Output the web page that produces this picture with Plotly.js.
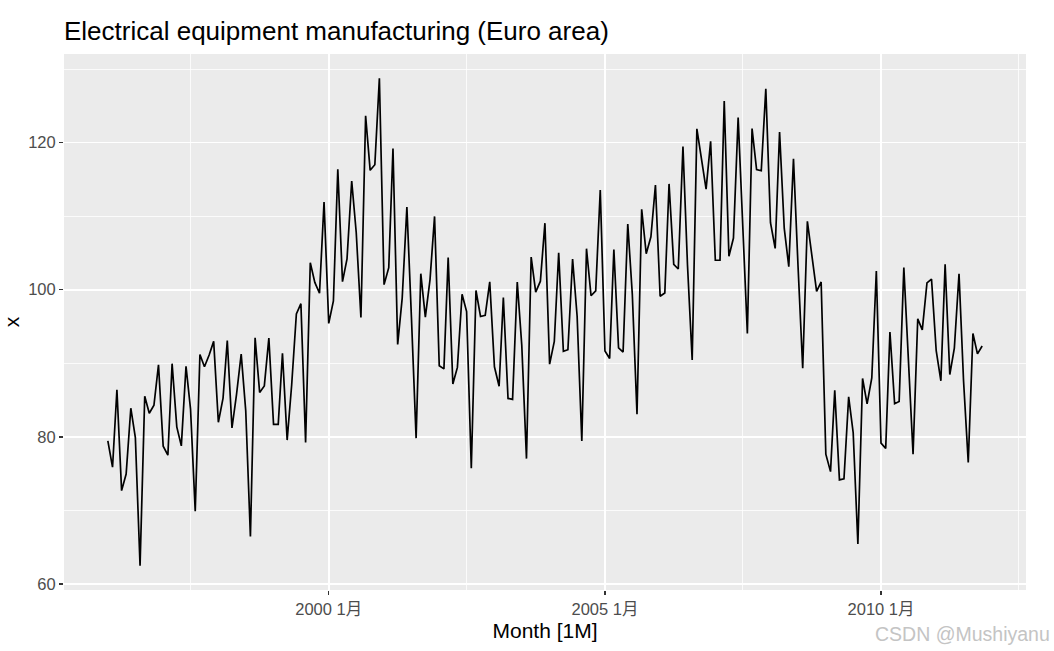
<!DOCTYPE html>
<html>
<head>
<meta charset="utf-8">
<script src="https://cdn.plot.ly/plotly-3.0.1.min.js"></script>
<style>html,body{margin:0;padding:0;background:#fff;}#chart{width:1054px;height:651px;}</style>
</head>
<body>
<div id="chart"></div>
<script>
// Monthly series, Jan 1996 - Nov 2011
const startYear = 1996;
const startMonth = 1;
const values = [
  79.43, 75.86, 86.40, 72.67, 74.93, 83.88, 79.88, 62.47, 85.50, 83.19, 84.29, 89.79,
  78.72, 77.49, 89.94, 81.35, 78.76, 89.59, 83.75, 69.87, 91.18, 89.52, 91.12, 92.97,
  81.97, 85.26, 93.09, 81.19, 85.74, 91.24, 83.56, 66.45, 93.45, 86.03, 86.91, 93.42,
  81.68, 81.68, 91.35, 79.55, 87.08, 96.71, 98.10, 79.22, 103.68, 101.00, 99.52, 111.94,
  95.42, 98.49, 116.37, 101.09, 104.20, 114.79, 107.75, 96.23, 123.65, 116.24, 117.00, 128.75,
  100.69, 102.99, 119.21, 92.56, 98.86, 111.26, 96.25, 79.81, 102.18, 96.28, 101.38, 109.97,
  89.66, 89.23, 104.36, 87.17, 89.43, 99.38, 97.03, 75.72, 99.89, 96.36, 96.52, 101.06,
  89.52, 86.86, 98.93, 85.21, 85.08, 101.05, 92.39, 77.03, 104.44, 99.68, 101.16, 109.05,
  89.88, 92.96, 105.02, 91.62, 91.84, 104.16, 96.40, 79.42, 105.58, 99.18, 99.85, 113.57,
  91.67, 90.65, 105.48, 92.09, 91.52, 108.94, 99.37, 83.07, 110.93, 104.90, 107.19, 114.23,
  99.11, 99.55, 114.39, 103.45, 102.82, 119.46, 103.36, 90.43, 121.88, 117.66, 113.68, 120.18,
  104.01, 104.02, 125.66, 104.55, 107.03, 123.41, 107.72, 94.04, 121.91, 116.35, 116.18, 127.34,
  109.12, 105.61, 121.44, 108.33, 103.14, 117.80, 103.26, 89.31, 109.30, 104.86, 99.76, 101.06,
  77.63, 75.26, 86.31, 74.14, 74.29, 85.43, 80.55, 65.42, 87.92, 84.48, 87.99, 102.54,
  79.13, 78.42, 94.24, 84.49, 84.79, 103.00, 90.01, 77.64, 96.04, 94.53, 100.92, 101.45,
  91.70, 87.61, 103.46, 88.46, 92.04, 102.15, 87.58, 76.50, 94.05, 91.28, 92.35
];
const xTickVals = ['2000-01-01', '2005-01-01', '2010-01-01'];
const xTickText = ['2000 1月', '2005 1月', '2010 1月'];
const yTickVals = [60, 80, 100, 120];
const yTickText = ['60', '80', '100', '120'];

const months = values.map((v, i) => {
  const m0 = (startMonth - 1) + i;
  const y = startYear + Math.floor(m0 / 12);
  const m = (m0 % 12) + 1;
  return y + '-' + String(m).padStart(2, '0') + '-01';
});

const FONT = 'Liberation Sans, Arial, Noto Sans CJK SC, sans-serif';

const trace = {
  x: months, y: values, type: 'scatter', mode: 'lines',
  line: {color: '#000000', width: 1.7}, hoverinfo: 'x+y'
};

const layout = {
  width: 1054, height: 651,
  margin: {l: 64, r: 28, t: 54, b: 61},
  paper_bgcolor: '#ffffff', plot_bgcolor: '#ebebeb',
  showlegend: false,
  font: {family: FONT},
  title: {text: 'Electrical equipment manufacturing (Euro area)', x: 0, xanchor: 'left', xref: 'paper',
          y: 1 - 31/651, yanchor: 'middle', font: {size: 26, color: '#000000', family: FONT}},
  xaxis: {
    type: 'date', range: ['1995-03-17', '2012-08-17'],
    tickmode: 'array', tickvals: xTickVals, ticktext: xTickText,
    showgrid: true, gridcolor: '#ffffff', gridwidth: 1.6,
    minor: {showgrid: true, gridcolor: '#ffffff', gridwidth: 0.8, tick0: '2000-01-01', dtick: 'M30', ticks: ''},
    ticks: 'outside', ticklen: 4, tickwidth: 1.5, tickcolor: '#333333',
    tickfont: {size: 16.5, color: '#4d4d4d', family: FONT},
    zeroline: false, showline: false,
    title: {text: 'Month [1M]', font: {size: 21, color: '#000000', family: FONT}, standoff: 6}
  },
  yaxis: {
    range: [59.156, 132.06],
    tickmode: 'array', tickvals: yTickVals, ticktext: yTickText,
    showgrid: true, gridcolor: '#ffffff', gridwidth: 1.6,
    minor: {showgrid: true, gridcolor: '#ffffff', gridwidth: 0.8, tick0: 0, dtick: 10, ticks: ''},
    ticks: 'outside', ticklen: 4, tickwidth: 1.5, tickcolor: '#333333',
    tickfont: {size: 16.5, color: '#4d4d4d', family: FONT},
    zeroline: false, showline: false,
    title: {text: 'x', font: {size: 21, color: '#000000', family: FONT}, standoff: 6}
  },
  annotations: [{
    text: 'CSDN @Mushiyanu', xref: 'paper', yref: 'paper',
    x: (1052 - 64) / (1054 - 64 - 28), y: -(634 - 590) / (651 - 54 - 61),
    xanchor: 'right', yanchor: 'middle', showarrow: false,
    font: {size: 19.5, color: '#c4c4c4', family: FONT}
  }]
};

Plotly.newPlot('chart', [trace], layout, {displayModeBar: false, staticPlot: true});
</script>
</body>
</html>
